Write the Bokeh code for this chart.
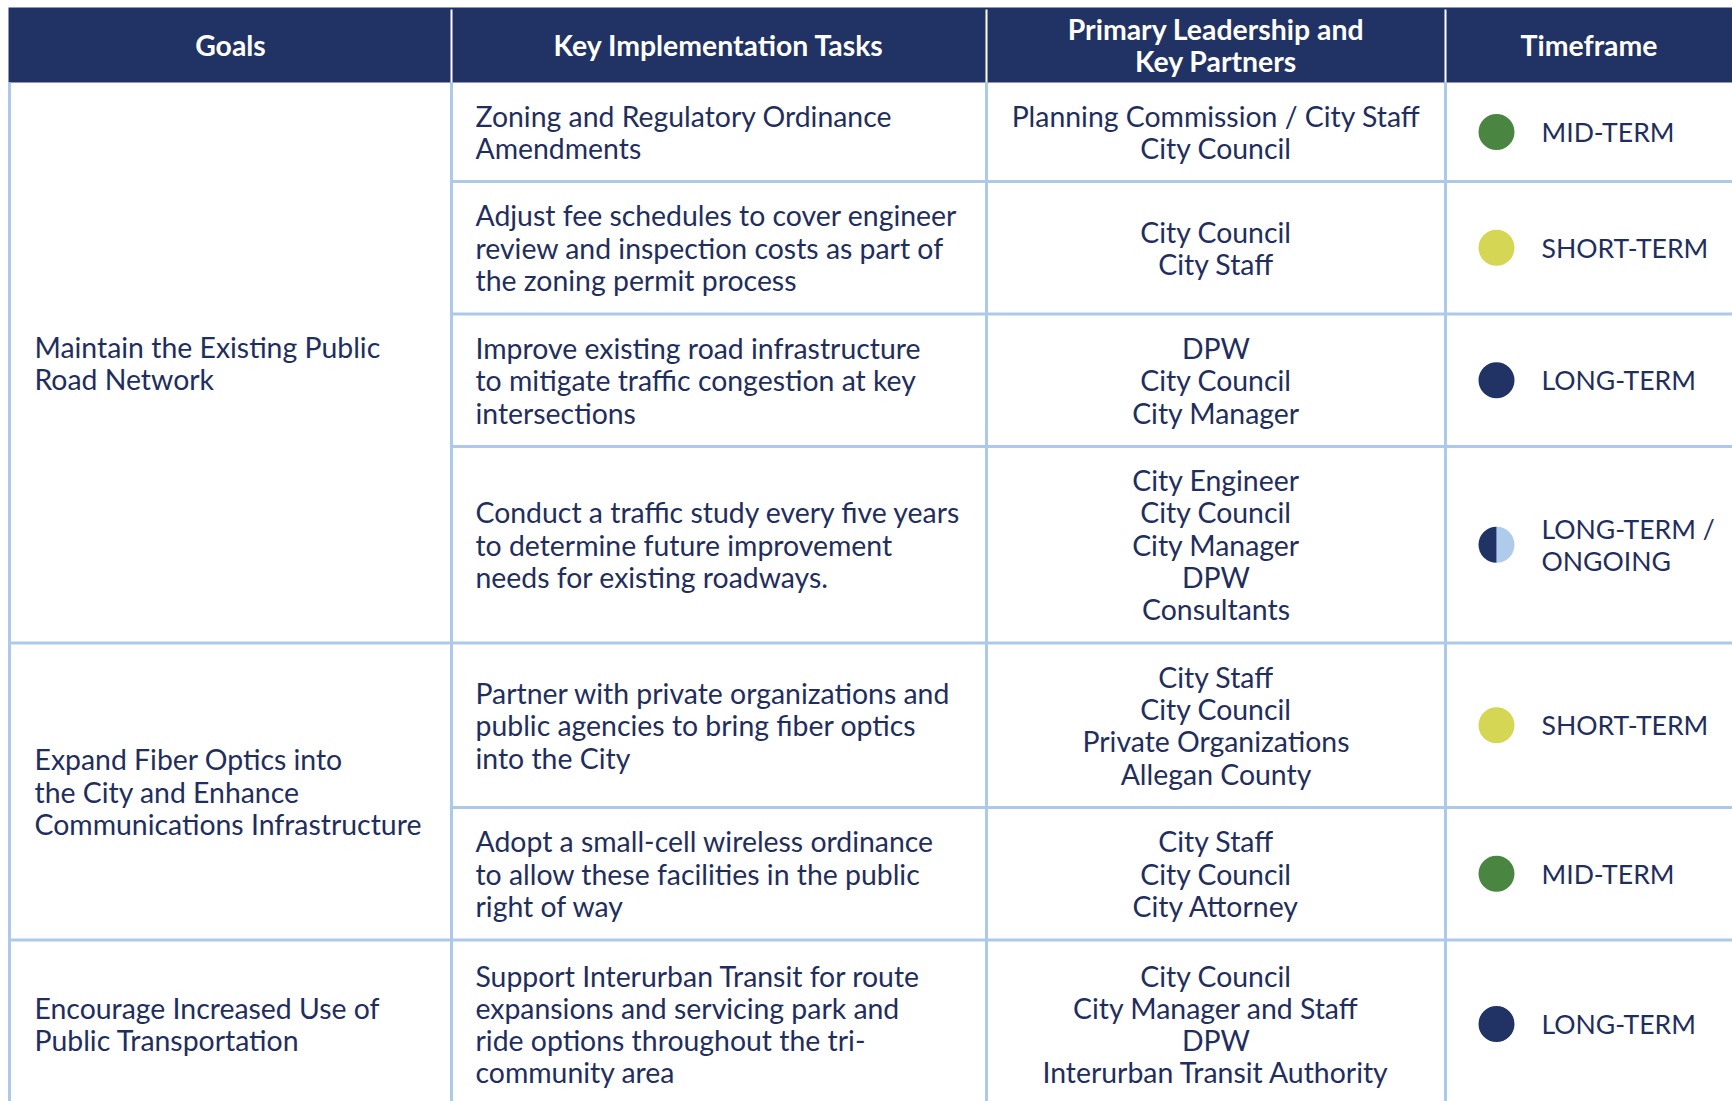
from bokeh.plotting import figure
from bokeh.models import ColumnDataSource, Range1d
from bokeh.core.properties import value
from bokeh.embed import file_html
from bokeh.resources import INLINE
import math

# ---------------- data ----------------
headers = ["Goals", "Key Implementation Tasks", "Primary Leadership and\nKey Partners", "Timeframe"]

goals = [
    "Maintain the Existing Public\nRoad Network",
    "Expand Fiber Optics into\nthe City and Enhance\nCommunications Infrastructure",
    "Encourage Increased Use of\nPublic Transportation",
]
goal_row_counts = [4, 2, 1]

tasks = [
    "Zoning and Regulatory Ordinance\nAmendments",
    "Adjust fee schedules to cover engineer\nreview and inspection costs as part of\nthe zoning permit process",
    "Improve existing road infrastructure\nto mitigate traffic congestion at key\nintersections",
    "Conduct a traffic study every five years\nto determine future improvement\nneeds for existing roadways.",
    "Partner with private organizations and\npublic agencies to bring fiber optics\ninto the City",
    "Adopt a small-cell wireless ordinance\nto allow these facilities in the public\nright of way",
    "Support Interurban Transit for route\nexpansions and servicing park and\nride options throughout the tri-\ncommunity area",
]

partners = [
    "Planning Commission / City Staff\nCity Council",
    "City Council\nCity Staff",
    "DPW\nCity Council\nCity Manager",
    "City Engineer\nCity Council\nCity Manager\nDPW\nConsultants",
    "City Staff\nCity Council\nPrivate Organizations\nAllegan County",
    "City Staff\nCity Council\nCity Attorney",
    "City Council\nCity Manager and Staff\nDPW\nInterurban Transit Authority",
]

timeframes = ["MID-TERM", "SHORT-TERM", "LONG-TERM", "LONG-TERM /\nONGOING",
              "SHORT-TERM", "MID-TERM", "LONG-TERM"]
timeframe_kinds = ["mid", "short", "long", "long_ongoing", "short", "mid", "long"]

# ---------------- styling / layout ----------------
W, H = 1732, 1101
FONT = "Lato"
NAVY = "#213264"
TEXT = "#1f2e5e"
GRID = "#adc9ea"
LIGHT = "#aecbeb"
kind_color = {"mid": "#4a8541", "short": "#d6d655", "long": "#213264"}

PAGE_R = 1732
col_edges = [9, 451, 986, 1445, 1760]
header_top, header_bottom = 7, 82
row_heights = [99, 132.5, 132.5, 196.5, 164.5, 132.5, 168]
LH = 32.3
BODY_SIZE = "28.4px"
TF_SIZE = "26.6px"
HEAD_SIZE = "28.4px"
HEAD_LH = 31.5

row_tops = []
y = header_bottom
for h in row_heights:
    row_tops.append(y)
    y += h
row_bottoms = [t + h for t, h in zip(row_tops, row_heights)]
row_centers = [(t + b) / 2 for t, b in zip(row_tops, row_bottoms)]

p = figure(width=W, height=H, x_range=Range1d(0, W), y_range=Range1d(H, 0),
           output_backend="svg", toolbar_location=None, min_border=0,
           x_axis_location=None, y_axis_location=None)
p.grid.visible = False
p.outline_line_color = None
p.background_fill_color = "white"
p.border_fill_color = "white"

# header background
p.quad(left=[col_edges[0] - 1], right=[col_edges[-1]], top=[header_top], bottom=[header_bottom],
       fill_color=NAVY, line_color=None)
# header white dividers
p.segment(x0=col_edges[1:4], x1=col_edges[1:4], y0=[header_top + 2] * 3, y1=[header_bottom] * 3,
          line_color="white", line_width=2)

# body grid: vertical lines
bottom_y = row_bottoms[-1] + 40
p.segment(x0=col_edges[0:4], x1=col_edges[0:4], y0=[header_bottom] * 4, y1=[bottom_y] * 4,
          line_color=GRID, line_width=3)

# horizontal lines
goal_bounds = set()
acc = 0
for c in goal_row_counts:
    acc += c
    goal_bounds.add(acc - 1)
hx0, hx1, hy = [], [], []
for i, b in enumerate(row_bottoms[:-1]):
    hx0.append(col_edges[0] if i in goal_bounds else col_edges[1])
    hx1.append(col_edges[-1])
    hy.append(b)
p.segment(x0=hx0, x1=hx1, y0=hy, y1=hy, line_color=GRID, line_width=3)


def add_lines(store, text, x, cy, lh):
    lines = text.split("\n")
    n = len(lines)
    for i, ln in enumerate(lines):
        store["x"].append(x)
        store["y"].append(cy + (i - (n - 1) / 2) * lh)
        store["text"].append(ln)


# header text
head = {"x": [], "y": [], "text": []}
hc = (header_top + header_bottom) / 2
for i, htxt in enumerate(headers):
    cx = (col_edges[i] + min(col_edges[i + 1], PAGE_R)) / 2
    add_lines(head, htxt, cx, hc, HEAD_LH)
p.text(x="x", y="y", text="text", source=ColumnDataSource(head),
       text_font=value(FONT), text_font_style="bold", text_font_size=HEAD_SIZE,
       text_color="white", text_align="center", text_baseline="middle")

# left aligned body text (goals, tasks)
left = {"x": [], "y": [], "text": []}
idx = 0
for g, c in zip(goals, goal_row_counts):
    gy = (row_tops[idx] + row_bottoms[idx + c - 1]) / 2
    add_lines(left, g, 34, gy, LH)
    idx += c
for t, cy in zip(tasks, row_centers):
    add_lines(left, t, 475, cy, LH)
p.text(x="x", y="y", text="text", source=ColumnDataSource(left),
       text_font=value(FONT), text_font_size=BODY_SIZE,
       text_color=TEXT, text_align="left", text_baseline="middle")

# timeframe labels
tfs = {"x": [], "y": [], "text": []}
for tf, cy in zip(timeframes, row_centers):
    add_lines(tfs, tf, 1541, cy, LH)
p.text(x="x", y="y", text="text", source=ColumnDataSource(tfs),
       text_font=value(FONT), text_font_size=TF_SIZE,
       text_color=TEXT, text_align="left", text_baseline="middle")

# centered partner text
cen = {"x": [], "y": [], "text": []}
pcx = (col_edges[2] + col_edges[3]) / 2
for pt, cy in zip(partners, row_centers):
    add_lines(cen, pt, pcx, cy, LH)
p.text(x="x", y="y", text="text", source=ColumnDataSource(cen),
       text_font=value(FONT), text_font_size=BODY_SIZE,
       text_color=TEXT, text_align="center", text_baseline="middle")

# timeframe markers
full_x, full_y, full_c = [], [], []
half_x, half_y = [], []
for k, cy in zip(timeframe_kinds, row_centers):
    if k == "long_ongoing":
        half_x.append(1496)
        half_y.append(cy)
    else:
        full_x.append(1496)
        full_y.append(cy)
        full_c.append(kind_color[k])
p.scatter(x=full_x, y=full_y, size=36, marker="circle", fill_color=full_c, line_color=None)
p.wedge(x=half_x, y=half_y, radius=18, start_angle=-math.pi / 2, end_angle=math.pi / 2,
        fill_color=LIGHT, line_color=None)
p.wedge(x=half_x, y=half_y, radius=18, start_angle=math.pi / 2, end_angle=3 * math.pi / 2,
        fill_color=NAVY, line_color=None)

open("out.html", "w").write(file_html(p, INLINE))
